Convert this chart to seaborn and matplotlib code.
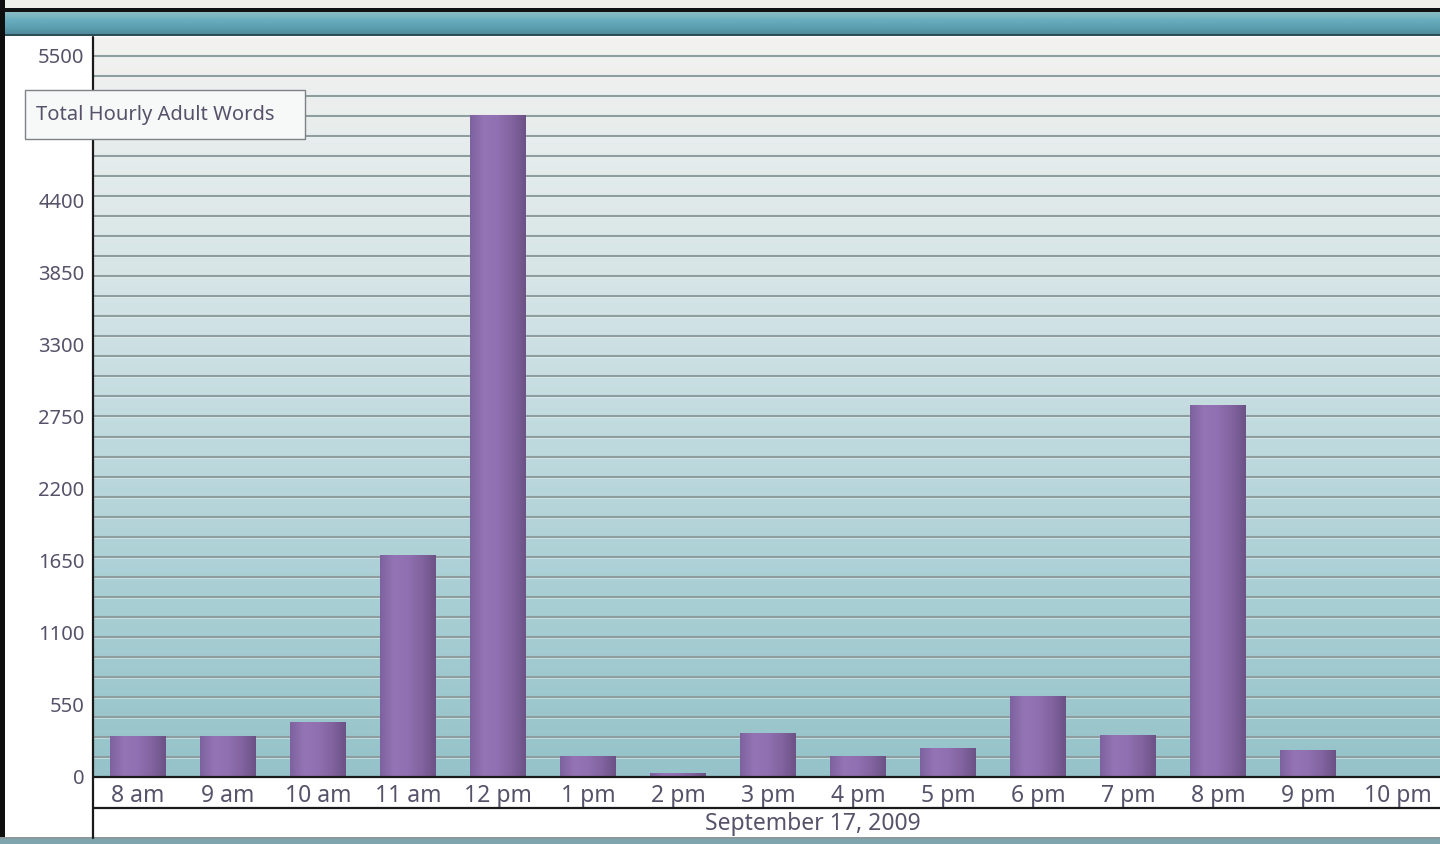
import numpy as np
import pandas as pd
import matplotlib
matplotlib.use("Agg")
import matplotlib.pyplot as plt
import seaborn as sns
from matplotlib.colors import LinearSegmentedColormap
from matplotlib.patches import Rectangle

# ---- data ----
hours = ["8 am", "9 am", "10 am", "11 am", "12 pm", "1 pm", "2 pm", "3 pm",
         "4 pm", "5 pm", "6 pm", "7 pm", "8 pm", "9 pm", "10 pm"]
words = [310, 310, 420, 1690, 5050, 160, 30, 335, 160, 220, 615, 320, 2835, 205, 0]
ytick_values = [0, 550, 1100, 1650, 2200, 2750, 3300, 3850, 4400, 4950, 5500]
ytick_labels = ["0", "550", "1100", "1650", "2200", "2750", "3300", "3850", "4400", "", "5500"]
series_name = "Total Hourly Adult Words"
date_label = "September 17, 2009"

sns.set_theme(style="white")
plt.rcParams["font.family"] = ["Noto Sans", "DejaVu Sans"]
txt_color = "#57526A"
FS_Y = 14.5
FS_X = 16.5

W, H = 1440, 844
fig = plt.figure(figsize=(W / 100, H / 100), dpi=100, facecolor="white")

def fx(px):
    return px / W

def fy(py):
    return 1 - py / H

# background decoration axes (pixel coords)
bg = fig.add_axes([0, 0, 1, 1], zorder=-5)
bg.set_xlim(0, W)
bg.set_ylim(H, 0)
bg.axis("off")
bg.add_patch(Rectangle((0, 0), W, 9, color="#EDF1EA", lw=0))
bg.add_patch(Rectangle((0, 8), W, 5, color="#101214", lw=0))
teal = LinearSegmentedColormap.from_list("teal", ["#8DBCC4", "#68AEBE", "#5C9FB0", "#4E8898"])
bg.imshow(np.linspace(0, 1, 50).reshape(-1, 1), cmap=teal, aspect="auto",
          extent=(0, W, 35, 12), zorder=1)
bg.add_patch(Rectangle((0, 34), W, 2, color="#2C4E58", lw=0, zorder=2))
bg.add_patch(Rectangle((0, 0), 5, H, color="#0E0E0E", lw=0, zorder=2))
bg.add_patch(Rectangle((0, 838), W, 6, color="#7FA6AE", lw=0, zorder=2))
bg.add_patch(Rectangle((0, 837), W, 1.5, color="#8A9A9C", lw=0, zorder=2))

# main axes
L, R, T, B = 93, 1440, 37, 777
ax = fig.add_axes([fx(L), fy(B), fx(R - L), (B - T) / H], zorder=1)
df = pd.DataFrame({"hour": hours, "words": words})
sns.barplot(data=df, x="hour", y="words", color="#8A6CAA", width=0.62,
            saturation=1, linewidth=0, ax=ax, zorder=3)

ymax = (B - T) / 0.1311
xlim = (-0.5, (R - 138) / 90)

# plot background gradient (light at top, teal at bottom)
bgcm = LinearSegmentedColormap.from_list("bgc", ["#F3F2F0", "#DDE8E9", "#C4DCE0", "#A9CFD4", "#95C3C9"])
ax.imshow(np.linspace(0, 1, 200).reshape(-1, 1), cmap=bgcm, aspect="auto",
          extent=(xlim[0], xlim[1], 0, ymax), origin="upper", zorder=0)

# horizontal grid lines
for g in np.linspace(0, 5500, 37)[1:]:
    ax.axhline(g, color="#8E9D9E", lw=1.5, zorder=1)
    ax.axhline(g - 1.0 / 0.1311, color="#EEF3F3", lw=0.7, alpha=0.5, zorder=1)

# bar gradient
barcm = LinearSegmentedColormap.from_list("bar", ["#7E62A0", "#9474B4", "#9070B0", "#8264A0", "#6C5286"])
grad = np.linspace(0, 1, 100).reshape(1, -1)
for p in ax.patches:
    x0, y0 = p.get_x(), p.get_y()
    w, h = p.get_width(), p.get_height()
    if h <= 0:
        continue
    im = ax.imshow(grad, cmap=barcm, aspect="auto", extent=(x0, x0 + w, y0, y0 + h), zorder=4)
    im.set_clip_path(p)
ax.set_xlim(*xlim)
ax.set_ylim(0, ymax)

ax.set_yticks(ytick_values)
ax.set_yticklabels(ytick_labels, fontsize=FS_Y, color=txt_color)
ax.tick_params(axis="y", length=0, pad=6)
ax.tick_params(axis="x", length=0, pad=5, labelsize=FS_X, labelcolor=txt_color)
ax.set_xlabel("")
ax.set_ylabel("")
for s in ax.spines.values():
    s.set_visible(False)

# overlay decorations
ov = fig.add_axes([0, 0, 1, 1], zorder=6)
ov.set_xlim(0, W)
ov.set_ylim(H, 0)
ov.axis("off")
ov.patch.set_alpha(0)
ov.plot([L, L], [T, 838], color="#1A1A1A", lw=1.6, zorder=2)
ov.plot([L, W], [B, B], color="#1A1A1A", lw=1.6, zorder=2)
ov.plot([L, W], [808, 808], color="#1A1A1A", lw=1.6, zorder=2)
ov.add_patch(Rectangle((25, 90), 280, 49, facecolor="#F7F8F8", edgecolor="#7D8284", lw=1.0, zorder=5))
ov.text(36, 115, series_name, fontsize=FS_Y, color=txt_color, ha="left", va="center", zorder=6)
ov.text(813, 824, date_label, fontsize=FS_X, color=txt_color, ha="center", va="center", zorder=6)

fig.savefig("out.png", dpi=100)
